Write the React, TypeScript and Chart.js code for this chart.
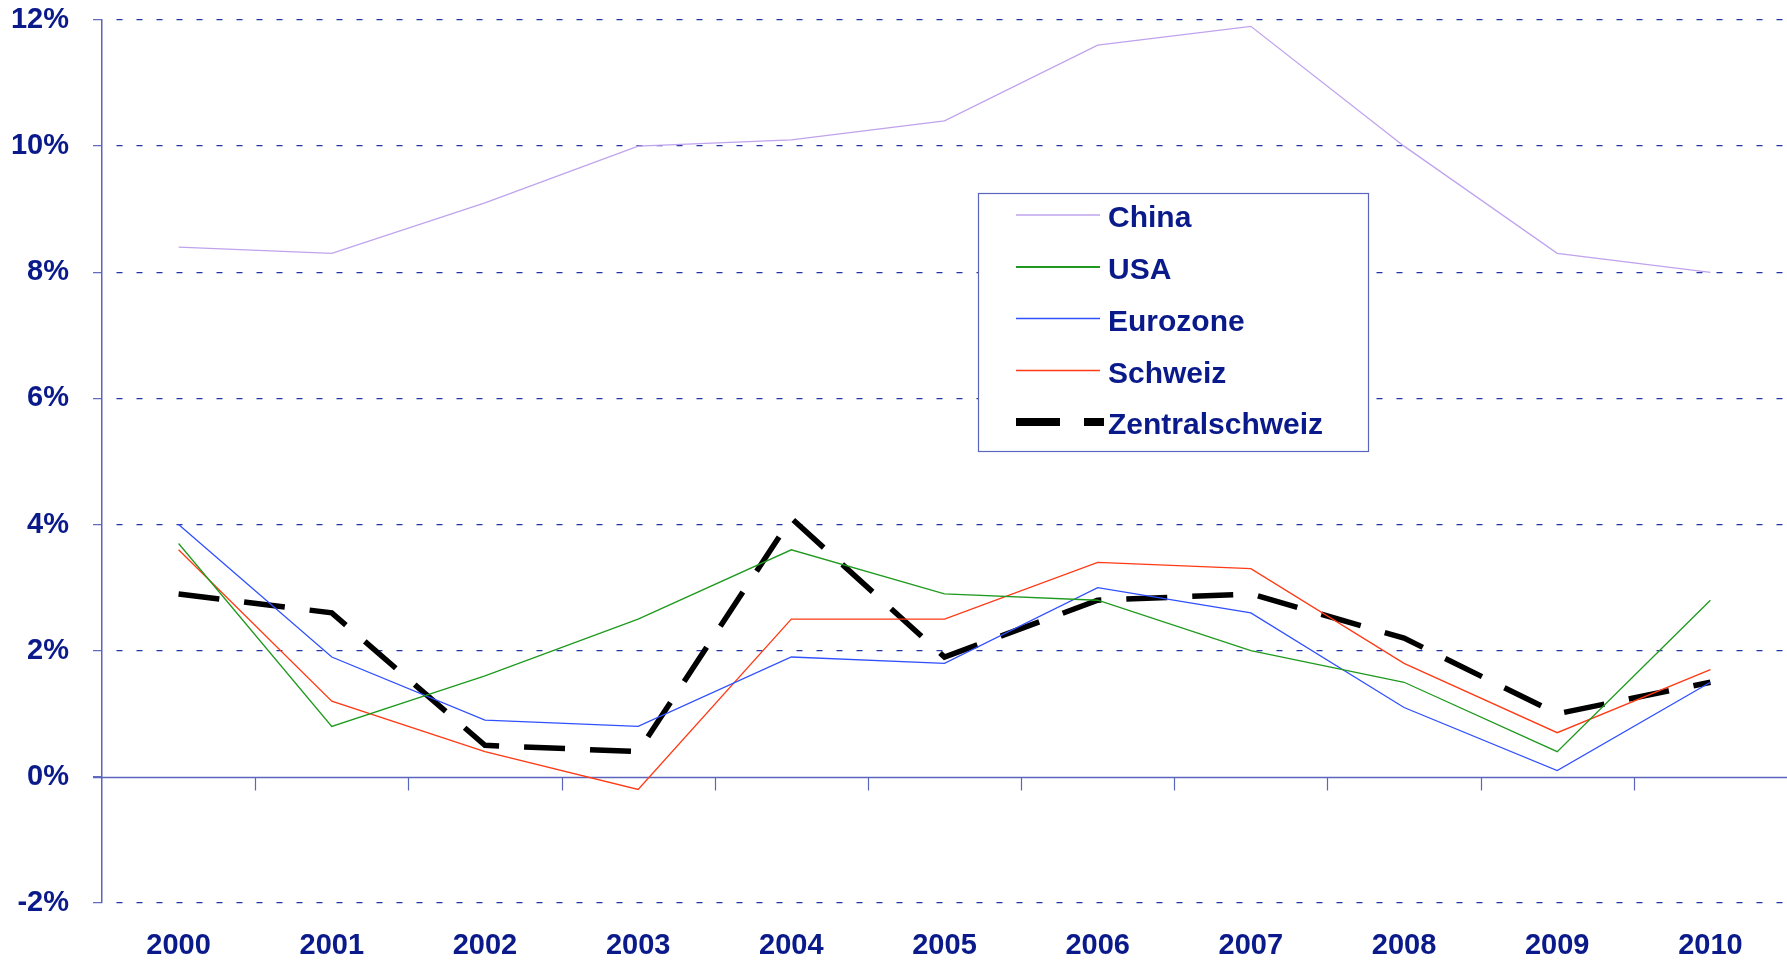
import React, { useEffect, useRef } from "react";
import { Chart, registerables } from "chart.js";

Chart.register(...registerables);

// ---- data ----
const years = ["2000", "2001", "2002", "2003", "2004", "2005", "2006", "2007", "2008", "2009", "2010"];
const china = [8.4, 8.3, 9.1, 10.0, 10.1, 10.4, 11.6, 11.9, 10.0, 8.3, 8.0];
const usa = [3.7, 0.8, 1.6, 2.5, 3.6, 2.9, 2.8, 2.0, 1.5, 0.4, 2.8];
const eurozone = [4.0, 1.9, 0.9, 0.8, 1.9, 1.8, 3.0, 2.6, 1.1, 0.1, 1.5];
const schweiz = [3.6, 1.2, 0.4, -0.2, 2.5, 2.5, 3.4, 3.3, 1.8, 0.7, 1.7];
const zentralschweiz = [2.9, 2.6, 0.5, 0.4, 4.1, 1.9, 2.8, 2.9, 2.2, 1.0, 1.5];
const yMin = -2;
const yMax = 12;
const yStep = 2;

// ---- styles ----
const FONT = '"Liberation Sans", Arial, sans-serif';
const NAVY = "#0a1a8a";
const GRID = "#2334a6";
const AXIS = "#5a66bc";

const zeroAxisPlugin = {
  id: "zeroAxis",
  beforeDatasetsDraw(chart: any) {
    const { ctx, chartArea, scales } = chart;
    const x = scales.x;
    const y = scales.y;
    const y0 = Math.round(y.getPixelForValue(0)) + 0.5;
    ctx.save();
    ctx.strokeStyle = AXIS;
    ctx.lineWidth = 1.5;
    ctx.setLineDash([]);
    ctx.beginPath();
    ctx.moveTo(chartArea.left - 9, y0);
    ctx.lineTo(chartArea.right, y0);
    ctx.stroke();
    ctx.lineWidth = 1.2;
    ctx.beginPath();
    for (let i = 0; i < years.length - 1; i++) {
      const bx = Math.round((x.getPixelForValue(i) + x.getPixelForValue(i + 1)) / 2) + 0.5;
      ctx.moveTo(bx, y0);
      ctx.lineTo(bx, y0 + 13);
    }
    ctx.stroke();
    ctx.restore();
  },
};

const legendPlugin = {
  id: "boxLegend",
  afterDraw(chart: any) {
    const { ctx } = chart;
    const bx = 978.5;
    const by = 193.5;
    const bw = 390;
    const bh = 258;
    ctx.save();
    ctx.fillStyle = "#ffffff";
    ctx.fillRect(bx, by, bw, bh);
    ctx.strokeStyle = "#5a66bc";
    ctx.lineWidth = 1.2;
    ctx.setLineDash([]);
    ctx.strokeRect(bx, by, bw, bh);
    const rows = [215, 267, 318.5, 370.5, 422];
    chart.data.datasets.forEach((ds: any, i: number) => {
      const ry = rows[i];
      ctx.strokeStyle = ds.borderColor;
      ctx.lineCap = "butt";
      if (ds.borderDash && ds.borderDash.length) {
        ctx.lineWidth = 8;
        ctx.setLineDash([44, 24]);
        ctx.beginPath();
        ctx.moveTo(1016, ry);
        ctx.lineTo(1104, ry);
        ctx.stroke();
      } else {
        ctx.lineWidth = i === 1 ? 2 : 1.4;
        ctx.setLineDash([]);
        ctx.beginPath();
        ctx.moveTo(1016, ry);
        ctx.lineTo(1100, ry);
        ctx.stroke();
      }
      ctx.setLineDash([]);
      ctx.fillStyle = NAVY;
      ctx.font = `bold 30px ${FONT}`;
      ctx.textBaseline = "alphabetic";
      ctx.textAlign = "left";
      ctx.fillText(ds.label, 1108, ry + 12);
    });
    ctx.restore();
  },
};

export default function App() {
  const canvasRef = useRef<HTMLCanvasElement | null>(null);

  useEffect(() => {
    const canvas = canvasRef.current;
    if (!canvas) return;
    const thin = 1.3;
    const chart = new Chart(canvas, {
      type: "line",
      data: {
        labels: years,
        datasets: [
          { label: "China", data: china, borderColor: "#bfa3ee", borderWidth: thin, pointRadius: 0, tension: 0 },
          { label: "USA", data: usa, borderColor: "#1f9a1f", borderWidth: thin, pointRadius: 0, tension: 0 },
          { label: "Eurozone", data: eurozone, borderColor: "#3050ff", borderWidth: thin, pointRadius: 0, tension: 0 },
          { label: "Schweiz", data: schweiz, borderColor: "#ff3a14", borderWidth: thin, pointRadius: 0, tension: 0 },
          {
            label: "Zentralschweiz",
            data: zentralschweiz,
            borderColor: "#000000",
            borderWidth: 5.5,
            borderDash: [41, 25],
            borderCapStyle: "butt",
            borderJoinStyle: "miter",
            pointRadius: 0,
            tension: 0,
          },
        ],
      },
      options: {
        responsive: false,
        devicePixelRatio: 1,
        animation: false,
        events: [],
        layout: { padding: { top: 20, right: 0, bottom: 0, left: 0 } },
        plugins: {
          legend: { display: false },
          tooltip: { enabled: false },
          title: { display: false },
        },
        scales: {
          x: {
            type: "category",
            offset: true,
            grid: { display: false, drawTicks: false },
            border: { display: false },
            ticks: {
              color: NAVY,
              font: { family: FONT, size: 29, weight: "bold" },
              padding: 26,
              maxRotation: 0,
              autoSkip: false,
            },
            afterFit: (scale: any) => {
              scale.height = 61;
            },
          },
          y: {
            min: yMin,
            max: yMax,
            grid: {
              color: (c: any) => (c.tick && c.tick.value === 0 ? "rgba(0,0,0,0)" : GRID),
              lineWidth: 1.3,
              tickLength: 9,
              tickColor: AXIS,
              tickWidth: 1.2,
              tickBorderDash: [],
            },
            border: { display: true, color: AXIS, width: 1.5, dash: [6, 14], dashOffset: 6 },
            ticks: {
              stepSize: yStep,
              color: NAVY,
              font: { family: FONT, size: 29, weight: "bold" },
              padding: 24,
              callback: (v: any) => `${v}%`,
            },
            afterFit: (scale: any) => {
              scale.width = 102;
              scale.paddingTop = 0;
              scale.paddingBottom = 0;
            },
          },
        },
      },
      plugins: [zeroAxisPlugin, legendPlugin],
    } as any);
    return () => chart.destroy();
  }, []);

  return (
    <div style={{ position: "absolute", left: 0, top: 0, width: 1787, height: 964, background: "#ffffff" }}>
      <canvas ref={canvasRef} width={1787} height={964} style={{ display: "block", width: 1787, height: 964 }} />
    </div>
  );
}
